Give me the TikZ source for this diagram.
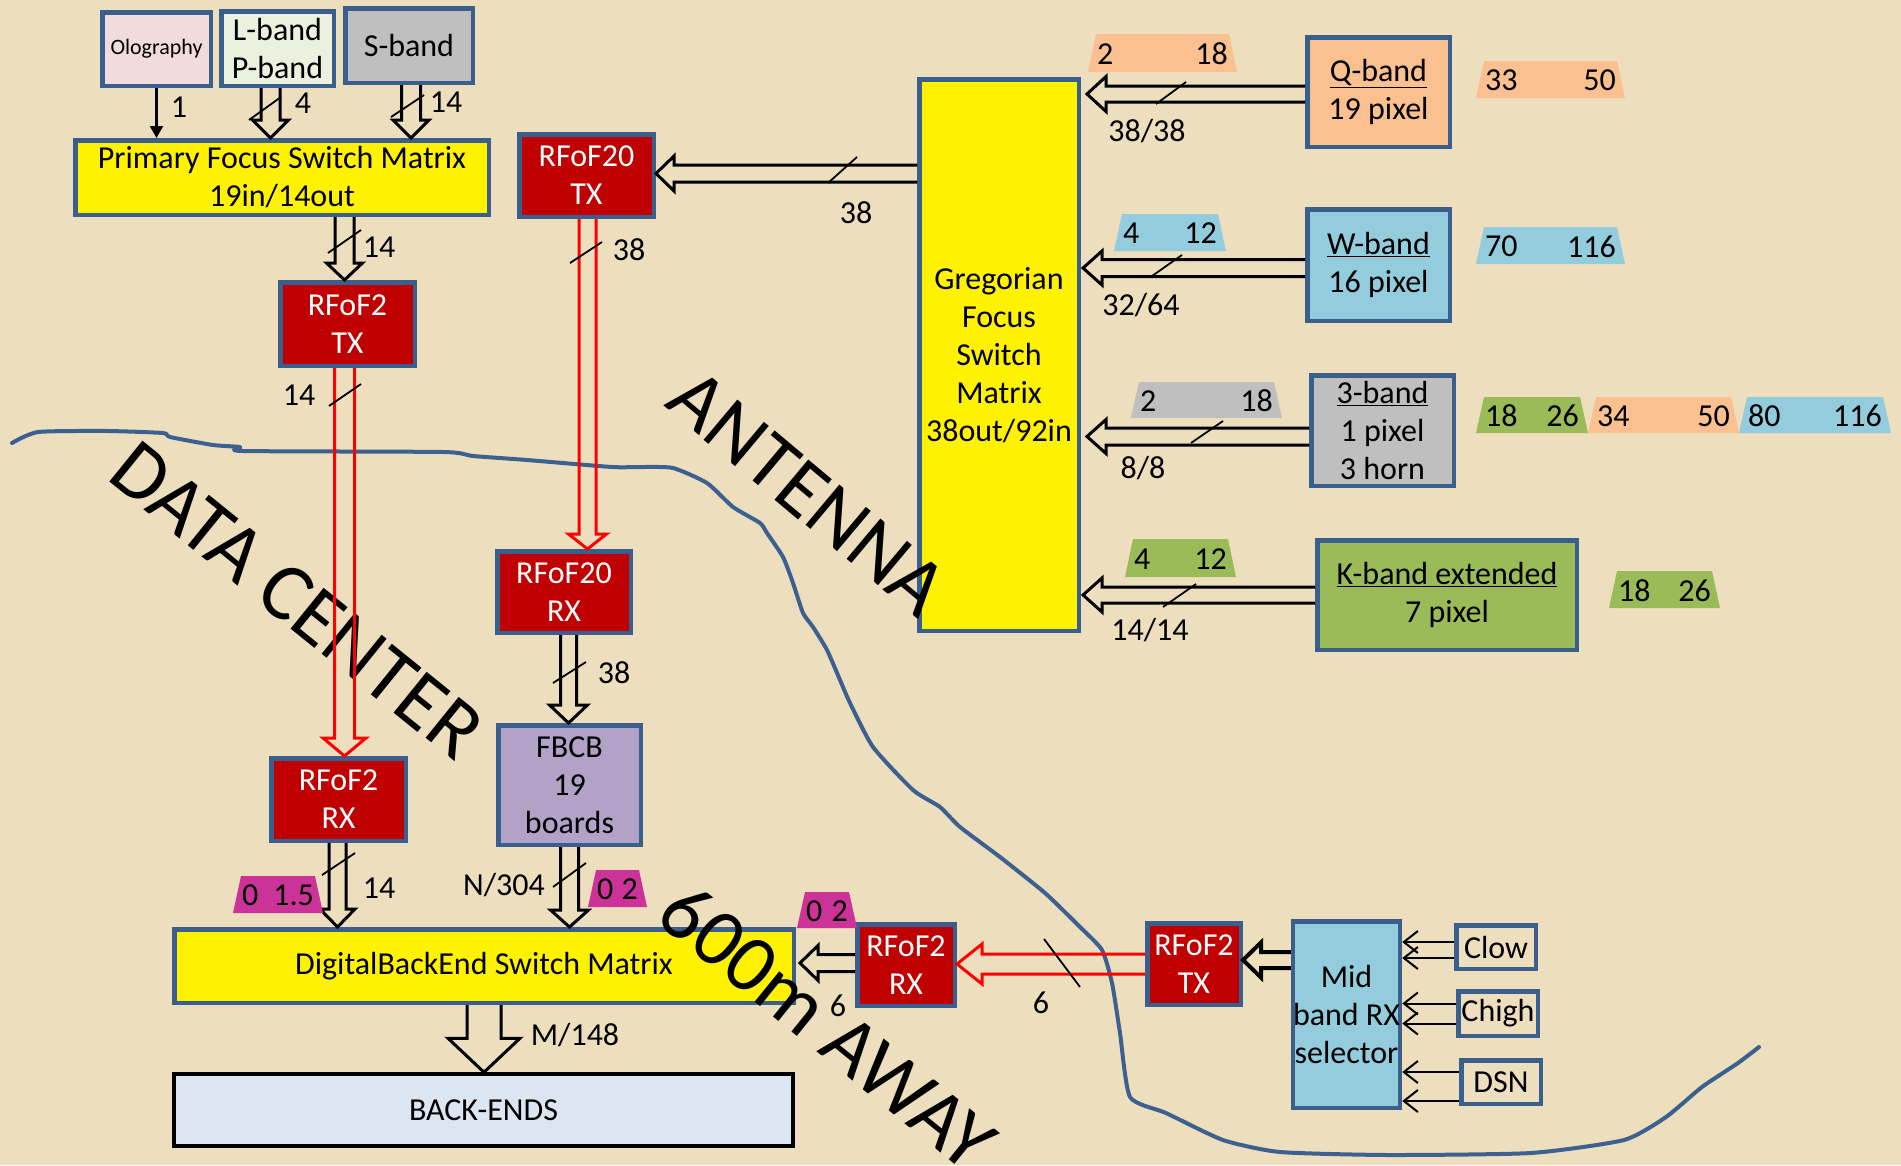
\documentclass[tikz,border=0pt]{standalone}
\usepackage{fontspec}
\setmainfont{Carlito}
\usetikzlibrary{calc,arrows.meta}
\definecolor{cBack}{RGB}{237,223,190}
\definecolor{cBord}{HTML}{3B5F8C}
\definecolor{cRed}{HTML}{C00000}
\definecolor{cPink}{HTML}{F2DCDB}
\definecolor{cLP}{HTML}{EBF1DE}
\definecolor{cGray}{HTML}{BFBFBF}
\definecolor{cOrange}{HTML}{FAC090}
\definecolor{cBlue}{HTML}{93CDDD}
\definecolor{cGreen}{HTML}{9BBB59}
\definecolor{cMag}{HTML}{CC3399}
\definecolor{cPurple}{HTML}{B3A2C7}
\definecolor{cBE}{HTML}{DCE6F2}
\definecolor{cLine}{HTML}{3C6090}
\newcommand\mainsz{\fontsize{32}{38}\selectfont}
\newcommand\smallsz{\fontsize{22}{26}\selectfont}
\newcommand\bigsz{\fontsize{82}{98}\selectfont}
\newcommand\bx[7]{\node[#6,minimum width={#4-#2-4.5},minimum height={#5-#3-4.5}] (#1) at ({(#2+#4)/2},{(#3+#5)/2}) {#7};}
\newcommand\vha[6][]{\draw[hollow,#1] let \p1=#2, \p2=#3 in (\x1-#4pt,\y1) -- (\x1-#4pt,\y2+#6pt) -- (\x1-#5pt,\y2+#6pt) -- (\x1,\y2) -- (\x1+#5pt,\y2+#6pt) -- (\x1+#4pt,\y2+#6pt) -- (\x1+#4pt,\y1);}
\newcommand\hla[6][]{\draw[hollow,#1] let \p1=#2, \p2=#3 in (\x1,\y1+#4pt) -- (\x2+#6pt,\y1+#4pt) -- (\x2+#6pt,\y1+#5pt) -- (\x2,\y1) -- (\x2+#6pt,\y1-#5pt) -- (\x2+#6pt,\y1-#4pt) -- (\x1,\y1-#4pt);}
\newcommand\band[8]{\fill[#6] (#2,#5) -- (#2+8,#4) -- (#3-8,#4) -- (#3,#5) -- cycle;
 \node[num,anchor=west] (#1a) at (#2+9,{(#4+#5)/2+1}) {#7};
 \node[num,anchor=east] (#1b) at (#3-9,{(#4+#5)/2+1}) {#8};}
\begin{document}
\begin{tikzpicture}[x=1pt,y=-1pt,
 blk/.style={draw=cBord,line width=4.5pt,inner sep=0pt,align=center,font=\mainsz},
 rbox/.style={blk,fill=cRed,text=white},
 hollow/.style={draw=black,line width=3pt,line join=miter},
 hred/.style={draw=red,line width=3pt},
 num/.style={inner sep=0pt,font=\mainsz},
 lbl/.style={inner sep=0pt,font=\mainsz},
 slash/.style={draw=black,line width=1.8pt},
 bigtxt/.style={inner sep=0pt,font=\bigsz,rotate=-39},
 feed/.style={draw=black,line width=2pt,-{Straight Barb[length=14pt,width=22pt,line width=2pt]}}]
\useasboundingbox (0,0) rectangle (1901,1165);
\fill[cBack] (0,0) rectangle (1901,1165);
% boundary line
\draw[cLine,line width=4pt,line join=round,line cap=round] plot[smooth,tension=0.35] coordinates {
(12,443) (38,432) (107,431) (163,433) (170,437) (213,445) (240,447) (243,451) (443,452) (473,456) (527,460) (612,467) (640,467) (673,468) (707,483) (733,507) (760,523) (767,533) (783,557) (793,583) (803,613) (813,627) (827,650) (840,680) (850,703) (873,747) (913,790) (940,807) (960,827) (1000,857) (1045,893) (1080,927) (1102,950) (1112,983) (1120,1033) (1130,1097) (1166,1113) (1223,1140) (1280,1152) (1388,1155) (1531,1153) (1624,1140) (1666,1117) (1702,1087) (1738,1063) (1759,1047)};
% boxes
\bx{olog}{100}{10}{213}{88}{blk,fill=cPink,font=\smallsz}{Olography}
\bx{lpband}{219}{9}{336}{88}{blk,fill=cLP}{L-band\\P-band}
\bx{sband}{343}{6}{475}{85}{blk,fill=cGray}{S-band}
\bx{pfsm}{73}{138}{491}{217}{blk,fill=yellow}{Primary Focus Switch Matrix\\19in/14out}
\bx{rftx}{278}{280}{417}{368}{rbox}{RFoF2\\TX}
\bx{rfxtx}{517}{132}{656}{219}{rbox}{RFoF20\\TX}
\bx{gfsm}{917}{77}{1081}{633}{blk,fill=yellow}{Gregorian\\Focus\\Switch\\Matrix\\38out/92in}
\bx{qband}{1305}{35}{1452}{149}{blk,fill=cOrange}{\underline{Q-band}\\19 pixel}
\bx{wband}{1305}{207}{1452}{323}{blk,fill=cBlue}{\underline{W-band}\\16 pixel}
\bx{tband}{1309}{373}{1456}{488}{blk,fill=cGray}{\underline{3-band}\\1 pixel\\3 horn}
\bx{kband}{1315}{538}{1579}{652}{blk,fill=cGreen}{\underline{K-band extended}\\7 pixel}
\bx{rfxrx}{495}{549}{633}{635}{rbox}{RFoF20\\RX}
\bx{rfrx}{269}{756}{408}{843}{rbox}{RFoF2\\RX}
\bx{fbcb}{496}{723}{643}{847}{blk,fill=cPurple}{FBCB\\19\\boards}
\bx{dbe}{172}{927}{796}{1005}{blk,fill=yellow}{DigitalBackEnd Switch Matrix}
\bx{backends}{172}{1072}{795}{1148}{blk,draw=black,line width=4pt,fill=cBE}{BACK-ENDS}
\bx{rfrxb}{855}{922}{957}{1008}{rbox}{RFoF2\\RX}
\bx{rftxb}{1145}{921}{1243}{1007}{rbox}{RFoF2\\TX}
\bx{mid}{1291}{919}{1402}{1110}{blk,fill=cBlue}{Mid\\band RX\\selector}
\bx{clow}{1454}{923}{1538}{971}{blk}{Clow}
\bx{chigh}{1456}{989}{1540}{1038}{blk}{Chigh}
\bx{dsn}{1459}{1058}{1543}{1106}{blk}{DSN}
% black connectors
\draw[line width=2.2pt,-{Triangle[length=12pt,width=13pt]}] (olog.south) -- (olog.south |- pfsm.north);
\vha{($(lpband.south)+(-7,0)$)}{(pfsm.north)}{9.5}{18}{18}
\vha{($(sband.south)+(2,0)$)}{(pfsm.north)}{9.5}{18}{18}
\vha{($(rftx.north |- pfsm.south)+(-3,0)$)}{(rftx.north)}{9.5}{18}{17}
\hla{($(gfsm.west |- rfxtx.east)+(0,-2)$)}{(rfxtx.east)}{8.5}{17.5}{18}
\hla{($(qband.west)+(0,2)$)}{($(gfsm.east)+(6,0)$)}{8}{17.5}{19}
\hla{($(wband.west)+(0,3)$)}{($(gfsm.east)+(2,0)$)}{8.5}{17}{19}
\hla{($(tband.west)+(0,6)$)}{($(gfsm.east)+(6,0)$)}{8.5}{17}{19}
\hla{(kband.west)}{($(gfsm.east)+(2,0)$)}{8}{17}{19}
\vha{($(fbcb.north |- rfxrx.south)+(-1,0)$)}{(fbcb.north)}{8}{19}{18}
\vha{($(rfrx.south)+(-1,0)$)}{(dbe.north)}{8.5}{17.5}{18}
\vha{(fbcb.south)}{(dbe.north)}{9}{19}{17}
\vha{(dbe.south)}{(backends.north)}{17}{36}{34}
\hla{($(rfrxb.west)+(0,-2)$)}{($(dbe.east)+(4,0)$)}{8.5}{17.5}{18}
\hla[line width=4pt]{($(mid.west |- rftxb.west)+(0,-4)$)}{(rftxb.east)}{8}{17.5}{18}
% feeds
\draw[feed] ($(clow.west)+(0,-5)$) coordinate (c1) -- (c1 -| mid.east);
\draw[feed] ($(clow.west)+(0,11)$) coordinate (c2) -- (c2 -| mid.east);
\draw[feed] ($(chigh.west)+(0,-10)$) coordinate (c3) -- (c3 -| mid.east);
\draw[feed] ($(chigh.west)+(0,10)$) coordinate (c4) -- (c4 -| mid.east);
\draw[feed] ($(dsn.west)+(0,-10)$) coordinate (c5) -- (c5 -| mid.east);
\draw[feed] ($(dsn.west)+(0,19)$) coordinate (c6) -- (c6 -| mid.east);
% band trapezoids
\band{qa}{1088}{1237}{34}{72}{cOrange}{2}{18}
\band{qb}{1476}{1625}{61}{98}{cOrange}{33}{50}
\band{wa}{1114}{1226}{214}{251}{cBlue}{4}{12}
\band{wb}{1476}{1625}{227}{264}{cBlue}{70}{116}
\band{ta}{1131}{1282}{382}{418}{cGray}{2}{18}
\band{tb}{1476}{1588}{397}{433}{cGreen}{18}{26}
\band{tc}{1588}{1739}{397}{433}{cOrange}{34}{50}
\band{td}{1739}{1891}{397}{433}{cBlue}{80}{116}
\band{ka}{1125}{1236}{539}{577}{cGreen}{4}{12}
\band{kb}{1609}{1720}{571}{608}{cGreen}{18}{26}
\band{ma}{233}{323}{876}{913}{cMag}{0}{1.5}
\band{mb}{588}{647}{870}{907}{cMag}{0}{2}
\band{mc}{797}{857}{892}{928}{cMag}{0}{2}
% labels
\node[lbl] (l1) at (179,107) {1};
\node[lbl] (l2) at (303,103) {4};
\node[lbl] (l3) at (446,102) {14};
\node[lbl] (l4) at (379,247) {14};
\node[lbl] (l5) at (299,395) {14};
\node[lbl] (l6) at (629,250) {38};
\node[lbl] (l7) at (856,213) {38};
\node[lbl] (l8) at (1147,131) {38/38};
\node[lbl] (l9) at (1141,305) {32/64};
\node[lbl] (l10) at (1143,468) {8/8};
\node[lbl] (l11) at (1150,630) {14/14};
\node[lbl] (l12) at (614,673) {38};
\node[lbl] (l13) at (379,888) {14};
\node[lbl] (l14) at (504,885) {N/304};
\node[lbl] (l15) at (575,1035) {M/148};
\node[lbl] (l16) at (838,1006) {6};
\node[lbl] (l17) at (1041,1003) {6};
% big texts
\node[bigtxt] (dc) at (297,600) {DATA CENTER};
\node[bigtxt,rotate=-1] (ant) at (808,493) {ANTENNA};
\node[bigtxt] (away) at (828,1026) {600m AWAY};
% red connectors
\vha[hred]{($(rftx.south)+(-3,0)$)}{(rfrx.north)}{10}{21.5}{18}
\vha[hred]{($(rfxtx.south)+(1,0)$)}{(rfxrx.north)}{8.5}{19}{15}
\hla[hred]{(rftxb.west)}{(rfrxb.east)}{10}{20}{25}
% slashes
\draw[slash] (249,120) -- (281,97);
\draw[slash] (391,117) -- (424,95);
\draw[slash] (328,253) -- (361,230);
\draw[slash] (329,406) -- (361,384);
\draw[slash] (570,263) -- (602,242);
\draw[slash] (828,183) -- (857,157);
\draw[slash] (1156,104) -- (1186,82);
\draw[slash] (1152,276) -- (1182,255);
\draw[slash] (1191,443) -- (1223,421);
\draw[slash] (1163,607) -- (1196,584);
\draw[slash] (553,683) -- (586,662);
\draw[slash] (322,875) -- (355,853);
\draw[slash] (553,887) -- (586,863);
\draw[slash] (1044,939) -- (1080,987);
\end{tikzpicture}
\end{document}
